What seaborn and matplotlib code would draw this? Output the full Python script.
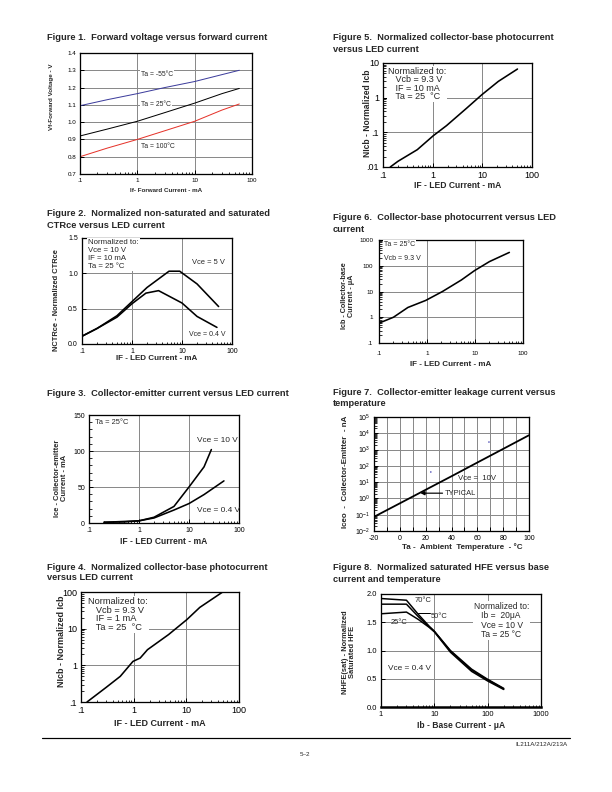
"""Datasheet page: IL211A/212A/213A typical characteristic curves."""

import matplotlib
matplotlib.use('Agg')
import matplotlib.pyplot as plt
import matplotlib.ticker as mtick
from matplotlib.lines import Line2D
import seaborn as sns

sns.set_theme(style='ticks')
plt.rcParams['font.family'] = ['Liberation Sans', 'DejaVu Sans']
plt.rcParams['mathtext.fontset'] = 'custom'
plt.rcParams['mathtext.rm'] = 'Liberation Sans'


# Figure 1 - forward voltage vs forward current
fig1_if = [0.1, 0.3, 1, 3, 10, 30, 60]
fig1_vf_m55 = [1.095, 1.13, 1.165, 1.20, 1.235, 1.275, 1.30]
fig1_vf_25 = [0.92, 0.96, 1.005, 1.055, 1.11, 1.165, 1.195]
fig1_vf_100 = [0.80, 0.85, 0.90, 0.95, 1.005, 1.07, 1.105]

# Figure 2 - normalized CTRce
fig2_if_5v = [0.1, 0.2, 0.5, 1, 2, 5.5, 9, 20, 54]
fig2_ctr_5v = [0.11, 0.22, 0.40, 0.60, 0.80, 1.03, 1.03, 0.85, 0.53]
fig2_if_04v = [0.1, 0.2, 0.5, 1, 1.9, 3.4, 10, 20, 50]
fig2_ctr_04v = [0.11, 0.22, 0.38, 0.57, 0.72, 0.755, 0.58, 0.39, 0.235]

# Figure 3 - collector-emitter current
fig3_if_10v = [0.2, 0.5, 1, 2, 5, 10, 20, 28]
fig3_ice_10v = [1, 1.5, 3, 8, 23, 50, 78, 102]
fig3_if_04v = [0.2, 1, 2, 5, 10, 20, 50]
fig3_ice_04v = [1, 3, 7, 18, 27, 39.5, 58.5]

# Figure 4 - normalized collector-base photocurrent (IF = 1 mA)
fig4_if = [0.13, 0.3, 0.556, 0.97, 1.33, 1.83, 4.6, 10.2, 18, 49]
fig4_nicb = [0.1, 0.25, 0.5, 1.28, 1.58, 2.67, 6.9, 17.6, 38, 100]

# Figure 5 - normalized collector-base photocurrent (IF = 10 mA)
fig5_if = [0.14, 0.2, 0.49, 1.03, 1.9, 4.85, 9.8, 21, 51]
fig5_nicb = [0.01, 0.0146, 0.0316, 0.08, 0.156, 0.5, 1.22, 2.95, 6.7]

# Figure 6 - collector-base photocurrent
fig6_if = [0.1, 0.2, 0.4, 0.94, 2.1, 5.2, 9.8, 20, 52]
fig6_icb = [0.59, 1.0, 2.4, 4.5, 10, 28, 65, 145, 330]

# Figure 7 - collector-emitter leakage current
fig7_ta = [-20, 0, 20, 40, 60, 80, 100]
fig7_iceo = [0.074, 0.5, 3.4, 23, 160, 1100, 7600]
fig7_dot_ta = [24, 69]
fig7_dot_iceo = [42, 2900]

# Figure 8 - normalized saturated HFE
fig8_ib = [1, 3, 5, 8, 10, 20, 50, 100, 200]
fig8_hfe_70 = [1.92, 1.89, 1.64, 1.43, 1.34, 1.00, 0.67, 0.49, 0.33]
fig8_hfe_50 = [1.82, 1.82, 1.60, 1.42, 1.34, 0.99, 0.65, 0.48, 0.32]
fig8_hfe_25 = [1.65, 1.68, 1.55, 1.41, 1.33, 0.97, 0.63, 0.46, 0.31]

# Tick labels
log_ticks = [0.1, 1, 10, 100]
log_labels = ['.1', '1', '10', '100']


W, H = 612, 792
GRID = '#8a8a8a'
TITLE_SIZE = 9.3


def add_panel(fig, box, labelsize):
    """Add an axes given its pixel box (left, top, right, bottom)."""
    l, t, r, b = box
    ax = fig.add_axes([l / W, 1 - b / H, (r - l) / W, (b - t) / H])
    for s in ax.spines.values():
        s.set_linewidth(1.3)
        s.set_color('black')
    ax.tick_params(which='both', direction='in', colors='black',
                   top=False, right=False, labelsize=labelsize, pad=4)
    ax.tick_params(which='major', length=4, width=1)
    ax.tick_params(which='minor', length=2.5, width=0.8)
    ax.grid(True, which='major', color=GRID, lw=1.0)
    ax.set_axisbelow(True)
    return ax


def log_x(ax, ticks=log_ticks, labels=log_labels):
    ax.set_xscale('log')
    ax.set_xlim(ticks[0], ticks[-1])
    ax.set_xticks(ticks, labels)
    ax.xaxis.set_minor_formatter(mtick.NullFormatter())


def label_x(ax, box, text, y, size, xc=None):
    l, t, r, b = box
    ax.set_xlabel(text, fontsize=size, fontweight='bold', va='center')
    xf = 0.5 if xc is None else (xc - l) / (r - l)
    ax.xaxis.set_label_coords(xf, (b - y) / (b - t))


def label_y(ax, box, text, x, yc, size):
    l, t, r, b = box
    ax.set_ylabel(text, fontsize=size, fontweight='bold', va='center',
                  ha='center', linespacing=1.1)
    ax.yaxis.set_label_coords((x - l) / (r - l), (b - yc) / (b - t))


def note(ax, box, x, y, text, size, va='center', boxed=False, **kw):
    l, t, r, b = box
    bbox = dict(facecolor='white', edgecolor='none', pad=1.0) if boxed else None
    ax.text((x - l) / (r - l), (b - y) / (b - t), text, transform=ax.transAxes,
            fontsize=size, va=va, ha='left', bbox=bbox, zorder=4, **kw)


def title(fig, x, lines):
    for text, y in lines:
        fig.text(x / W, 1 - y / H, text, fontsize=TITLE_SIZE, fontweight='bold',
                 va='center', ha='left')


fig = plt.figure(figsize=(W / 72, H / 72), dpi=72)

# ---------------- Figure 1
box1 = (80, 53, 252, 174)
ax = add_panel(fig, box1, 6.3)
sns.lineplot(x=fig1_if, y=fig1_vf_m55, ax=ax, color='#3d3d9c', lw=1.0)
sns.lineplot(x=fig1_if, y=fig1_vf_25, ax=ax, color='black', lw=1.0)
sns.lineplot(x=fig1_if, y=fig1_vf_100, ax=ax, color='#e5332a', lw=1.0)
log_x(ax)
ax.set_ylim(0.7, 1.4)
ax.set_yticks([0.7, 0.8, 0.9, 1.0, 1.1, 1.2, 1.3, 1.4])
ax.yaxis.set_major_formatter(mtick.FormatStrFormatter('%.1f'))
note(ax, box1, 141, 75, 'Ta = -55°C', 6.8, boxed=True)
note(ax, box1, 141, 104, 'Ta = 25°C', 6.8, boxed=True)
note(ax, box1, 141, 147, 'Ta = 100°C', 6.8, boxed=True)
label_x(ax, box1, 'If- Forward Current - mA', 190, 6.2)
label_y(ax, box1, 'Vf-Forward Voltage - V', 52, 97, 6.3)
title(fig, 47, [('Figure 1.  Forward voltage versus forward current', 38)])

# ---------------- Figure 2
box2 = (82, 238, 232, 344)
ax = add_panel(fig, box2, 7)
sns.lineplot(x=fig2_if_5v, y=fig2_ctr_5v, ax=ax, color='black', lw=1.6)
sns.lineplot(x=fig2_if_04v, y=fig2_ctr_04v, ax=ax, color='black', lw=1.6)
log_x(ax)
ax.set_ylim(0, 1.5)
ax.set_yticks([0, 0.5, 1.0, 1.5], ['0.0', '0.5', '1.0', '1.5'])
note(ax, box2, 88, 239, 'Normalized to:\nVce = 10 V\nIF = 10 mA\nTa = 25 °C', 7.8,
     va='top', boxed=True, linespacing=1.2)
note(ax, box2, 192, 262, 'Vce = 5 V', 7.5)
note(ax, box2, 189, 334, 'Vce = 0.4 V', 7)
label_x(ax, box2, 'IF - LED Current - mA', 358, 8)
label_y(ax, box2, 'NCTRce - Normalized CTRce', 57, 300, 7.5)
title(fig, 47, [('Figure 2.  Normalized non-saturated and saturated', 213),
                ('CTRce versus LED current', 225)])

# ---------------- Figure 3
box3 = (89, 415, 239, 523)
ax = add_panel(fig, box3, 7)
sns.lineplot(x=fig3_if_10v, y=fig3_ice_10v, ax=ax, color='black', lw=1.6)
sns.lineplot(x=fig3_if_04v, y=fig3_ice_04v, ax=ax, color='black', lw=1.6)
log_x(ax)
ax.set_ylim(0, 150)
ax.set_yticks([0, 50, 100, 150])
ax.yaxis.set_minor_locator(mtick.MultipleLocator(10))
note(ax, box3, 95, 422, 'Ta = 25°C', 7.5)
note(ax, box3, 197, 441, 'Vce = 10 V', 8.3)
note(ax, box3, 197, 511, 'Vce = 0.4 V', 8.3)
label_x(ax, box3, 'IF - LED Current - mA', 541, 8.5)
label_y(ax, box3, 'Ice - Collector-emitter\nCurrent - mA', 61, 478, 7.5)
title(fig, 47, [('Figure 3.  Collector-emitter current versus LED current', 393)])

# ---------------- Figure 4
box4 = (81, 592, 239, 702)
ax = add_panel(fig, box4, 9)
sns.lineplot(x=fig4_if, y=fig4_nicb, ax=ax, color='black', lw=1.6)
log_x(ax)
ax.set_yscale('log')
ax.set_ylim(0.1, 100)
ax.set_yticks(log_ticks, log_labels)
ax.yaxis.set_minor_formatter(mtick.NullFormatter())
note(ax, box4, 88, 597, 'Normalized to:\n   Vcb = 9.3 V\n   IF = 1 mA\n   Ta = 25  °C', 9.3,
     va='top', boxed=True, linespacing=0.95)
label_x(ax, box4, 'IF - LED Current - mA', 723, 9)
label_y(ax, box4, 'NIcb - Normalized Icb', 62, 641, 9)
title(fig, 47, [('Figure 4.  Normalized collector-base photocurrent', 567),
                ('versus LED current', 578)])

# ---------------- Figure 5
box5 = (383, 63, 532, 167)
ax = add_panel(fig, box5, 9)
sns.lineplot(x=fig5_if, y=fig5_nicb, ax=ax, color='black', lw=1.6)
log_x(ax)
ax.set_yscale('log')
ax.set_ylim(0.01, 10)
ax.set_yticks([0.01, 0.1, 1, 10], ['.01', '.1', '1', '10'])
ax.yaxis.set_minor_formatter(mtick.NullFormatter())
note(ax, box5, 388, 67, 'Normalized to:\n   Vcb = 9.3 V\n   IF = 10 mA\n   Ta = 25  °C', 9,
     va='top', boxed=True, linespacing=0.92)
label_x(ax, box5, 'IF - LED Current - mA', 185, 8.5)
label_y(ax, box5, 'NIcb - Normalized Icb', 367, 113, 8.5)
title(fig, 333, [('Figure 5.  Normalized collector-base photocurrent', 38),
                 ('versus LED current', 50)])

# ---------------- Figure 6
box6 = (379, 240, 523, 343)
ax = add_panel(fig, box6, 6.3)
sns.lineplot(x=fig6_if, y=fig6_icb, ax=ax, color='black', lw=1.6)
log_x(ax)
ax.set_yscale('log')
ax.set_ylim(0.1, 1000)
ax.set_yticks([0.1, 1, 10, 100, 1000], ['.1', '1', '10', '100', '1000'])
ax.yaxis.set_minor_formatter(mtick.NullFormatter())
ax.tick_params(axis='x', pad=8)
ax.tick_params(axis='y', pad=6)
note(ax, box6, 384, 244, 'Ta = 25°C', 7, boxed=True)
note(ax, box6, 384, 259, 'Vcb = 9.3 V', 7, boxed=True)
label_x(ax, box6, 'IF - LED Current - mA', 365, 8)
label_y(ax, box6, 'Icb - Collector-base\nCurrent - μA', 348, 296, 7.3)
title(fig, 333, [('Figure 6.  Collector-base photocurrent versus LED', 217),
                 ('current', 229)])

# ---------------- Figure 7
box7 = (374, 417, 529, 531)
ax = add_panel(fig, box7, 7)
sns.lineplot(x=fig7_ta, y=fig7_iceo, ax=ax, color='black', lw=1.8)
sns.scatterplot(x=fig7_dot_ta, y=fig7_dot_iceo, ax=ax, color='#1a1aa0', s=2,
                edgecolor='none')
ax.set_yscale('log')
ax.set_xlim(-20, 100)
ax.set_ylim(1e-2, 1e5)
ax.set_xticks(list(range(-20, 101, 10)),
              ['-20', '', '0', '', '20', '', '40', '', '60', '', '80', '', '100'])
ax.set_yticks([1e-2, 1e-1, 1e0, 1e1, 1e2, 1e3, 1e4, 1e5])
ax.yaxis.set_major_formatter(mtick.LogFormatterSciNotation())
ax.yaxis.set_minor_formatter(mtick.NullFormatter())
note(ax, box7, 458, 479, 'Vce =  10V', 7.8)
ax.annotate('TYPICAL', xy=(16, 2.1), xytext=(35, 2.1), fontsize=7.5,
            va='center', ha='left',
            arrowprops=dict(arrowstyle='-|>', color='black', lw=1.2,
                            shrinkA=0, shrinkB=0, mutation_scale=8))
label_x(ax, box7, 'Ta -  Ambient  Temperature  - °C', 547, 8, xc=462)
label_y(ax, box7, 'Iceo  -  Collector-Emitter  - nA', 345, 472, 8)
title(fig, 333, [('Figure 7.  Collector-emitter leakage current versus', 392),
                 ('temperature', 403)])

# ---------------- Figure 8
box8 = (381, 594, 541, 707)
ax = add_panel(fig, box8, 7.5)
for hfe in [fig8_hfe_70, fig8_hfe_50, fig8_hfe_25]:
    sns.lineplot(x=fig8_ib, y=hfe, ax=ax, color='black', lw=1.5)
log_x(ax, [1, 10, 100, 1000], ['1', '10', '100', '1000'])
ax.set_ylim(0, 2.0)
ax.set_yticks([0, 0.5, 1.0, 1.5, 2.0], ['0.0', '0.5', '1.0', '1.5', '2.0'])
ax.spines['bottom'].set_linewidth(2.5)
note(ax, box8, 415, 600, '70°C', 7.5)
note(ax, box8, 431, 616, '50°C', 7.5)
ax.add_artist(Line2D([(418 - 381) / 160, (430 - 381) / 160],
                     [(707 - 613) / 113] * 2, transform=ax.transAxes,
                     color='black', lw=1.0))
note(ax, box8, 391, 622, '25°C', 7.5)
note(ax, box8, 388, 669, 'Vce = 0.4 V', 8.3)
note(ax, box8, 474, 602, 'Normalized to:\n   Ib =  20μA\n   Vce = 10 V\n   Ta = 25 °C', 8.5,
     va='top', boxed=True, linespacing=1.05)
label_x(ax, box8, 'Ib - Base Current - μA', 725, 8.5)
label_y(ax, box8, 'NHFE(sat) - Normalized\nSaturated HFE', 349, 652, 7.5)
title(fig, 333, [('Figure 8.  Normalized saturated HFE versus base', 568),
                 ('current and temperature', 580)])

# ---------------- Footer
fig.add_artist(Line2D([42 / W, 570 / W], [1 - 738 / H] * 2, color='black', lw=1.2))
fig.text(567 / W, 1 - 744 / H, 'IL211A/212A/213A', fontsize=6.3, ha='right', va='center')
fig.text(300 / W, 1 - 754 / H, '5–2', fontsize=6.3, ha='left', va='center')

fig.savefig('out.png', dpi=72)
